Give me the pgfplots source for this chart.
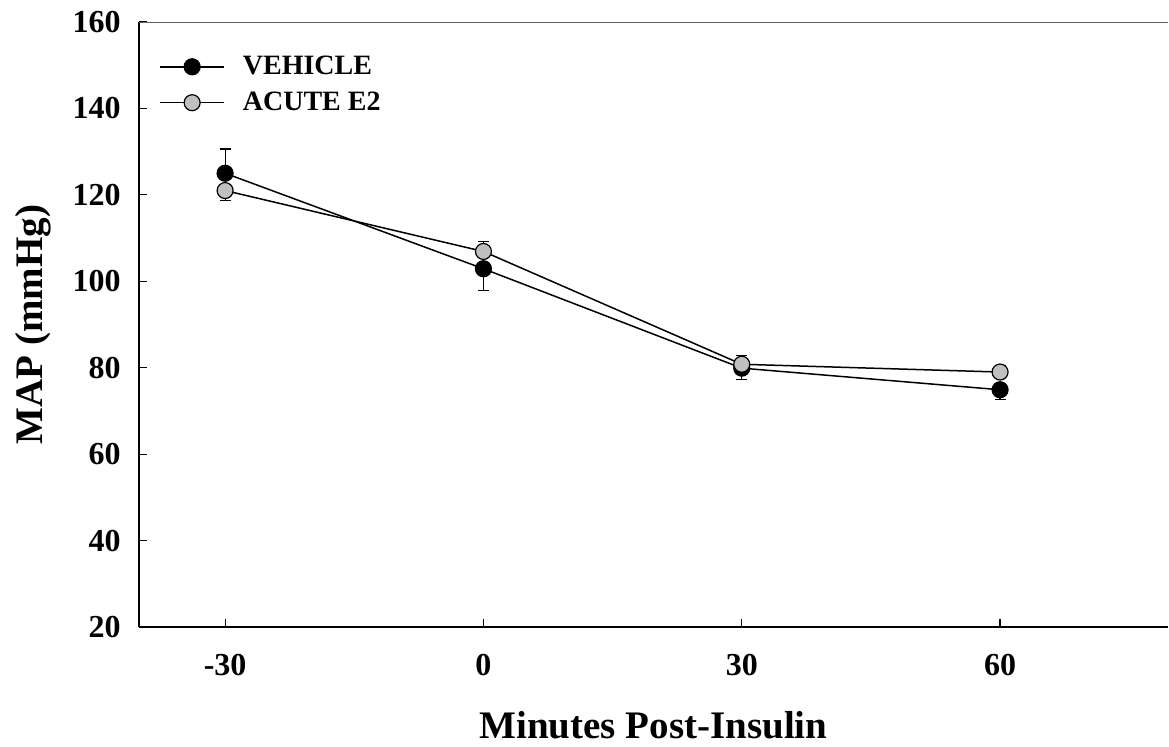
\documentclass[border=0pt]{standalone}
\usepackage{pgfplots}
\pgfplotsset{compat=1.18}
\usepackage{fontspec}
\setmainfont{Liberation Serif}
\definecolor{egray}{RGB}{192,192,192}
\definecolor{topgray}{RGB}{96,96,96}
\begin{document}
\begin{tikzpicture}
\useasboundingbox (-69.5pt,-59.5pt) rectangle (515pt,313.5pt);
\begin{axis}[
  at={(0pt,0pt)}, anchor=south west,
  scale only axis,
  width=514.5pt, height=302.5pt,
  xmin=-40, xmax=79.5, ymin=20, ymax=160,
  axis x line*=bottom, axis y line*=left,
  axis line style={line width=0.75pt, -},
  xtick={-30,0,30,60}, ytick={20,40,...,160},
  tick align=inside,
  major tick length=4pt,
  tick style={line width=0.6pt, black},
  /pgf/number format/assume math mode=true,
  ticklabel style={font=\bfseries\fontsize{16}{16}\selectfont},
  xticklabel style={anchor=base, yshift=-24pt},
  yticklabel style={anchor=east, inner sep=0pt, xshift=-9pt},
  xlabel={Minutes Post-Insulin},
  ylabel={MAP (mmHg)},
  label style={font=\bfseries\fontsize{19.5}{19.5}\selectfont},
  xlabel style={at={(axis description cs:0.5,-0.1835)}, anchor=base},
  ylabel style={at={(axis description cs:-0.0933,0.5)}, anchor=base},
  legend cell align=left,
  legend style={draw=none, fill=none, at={(axis description cs:0,1)}, anchor=north west,
    xshift=10pt, yshift=-16.8pt, inner sep=0pt, row sep=7.2pt,
    font=\bfseries\fontsize{14}{14}\selectfont,
    nodes={inner sep=0pt},
    /tikz/every odd column/.style={column sep=9pt}},
  legend image code/.code={\draw[mark repeat=2,mark phase=2,#1] plot coordinates {(0pt,0pt) (16pt,0pt) (32pt,0pt)};},
  error bars/y dir=both, error bars/y explicit,
  error bars/error mark options={rotate=90, mark size=2.75pt, line width=0.6pt, black},
  error bars/error bar style={line width=0.6pt, black},
]
\draw[topgray, line width=0.75pt] (rel axis cs:0,1) -- (rel axis cs:1,1);
\addplot[black, line width=0.75pt, mark=*, mark size=4pt, mark options={fill=black, draw=black, line width=0.6pt}]
  coordinates {
  (-30,125.0) += (0,5.6) -= (0,0)
  (0,102.9) += (0,0) -= (0,5.1)
  (30,79.9) += (0,0) -= (0,2.7)
  (60,74.9) += (0,0) -= (0,2.3)
  };
\addlegendentry{VEHICLE}
\addplot[black, line width=0.75pt, mark=*, mark size=4pt, mark options={fill=egray, draw=black, line width=0.6pt}]
  coordinates {
  (-30,121.0) += (0,0) -= (0,2.3)
  (0,106.9) += (0,2.4) -= (0,0)
  (30,80.8) += (0,2.0) -= (0,0)
  (60,79.0) += (0,1.6) -= (0,0)
  };
\addlegendentry{ACUTE E2}
\end{axis}
\end{tikzpicture}
\end{document}
